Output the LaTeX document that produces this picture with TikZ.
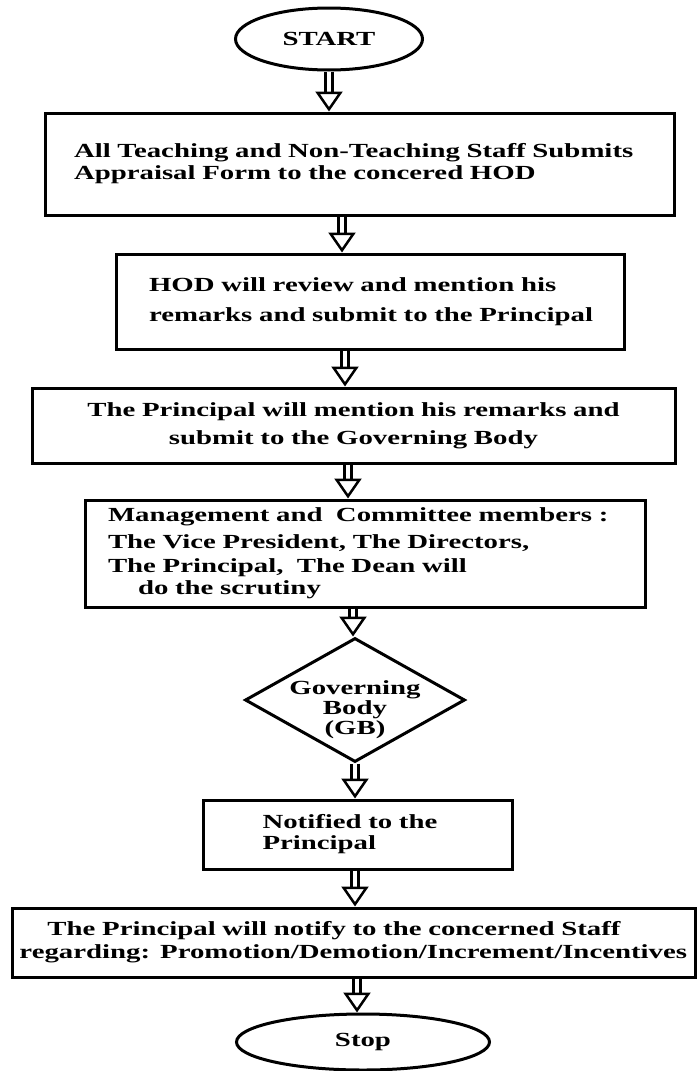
\documentclass[tikz,border=0pt]{standalone}
\usepackage{fontspec}
\newfontfamily\flowfont{Liberation Serif}[FakeStretch=1.44]
\newcommand{\flowtext}{\flowfont\bfseries\fontsize{20}{24}\selectfont}
\usetikzlibrary{arrows.meta,positioning,shapes.geometric}

\begin{document}
\begin{tikzpicture}[x=1pt, y=1pt, node distance=100pt]
	\tikzstyle{terminal} = [ellipse, draw=black, line width=3pt, inner sep=0pt, 
	font=\flowtext]
	\tikzstyle{process} = [rectangle, draw=black, line width=3pt, inner sep=0pt, 
	align=left, font=\flowtext]
	\tikzstyle{decision} = [diamond, draw=black, line width=3pt, inner sep=-10pt, 
	aspect=1.77, align=center, font=\flowtext]
	\tikzstyle{arrow} = [double, double distance=4.5pt, line width=2.5pt, 
	-{Triangle[length=20pt, width=27pt, fill=white, line width=2.5pt]}]
	\useasboundingbox (0,0) rectangle (697,-1071);
	\node (start) [terminal, minimum width=187pt, minimum height=62pt] at (329,-39) {START};
	\node (submitForm) [process, below of=start, node distance=125pt, xshift=30.5pt, 
	minimum width=629pt, minimum height=102pt, text width=571pt] {All Teaching and Non-Teaching Staff Submits\\[-2pt]Appraisal Form to the concered HOD};
	\node (hodReview) [process, below of=submitForm, node distance=137.5pt, xshift=10.5pt, 
	minimum width=508pt, minimum height=95pt, text width=470pt] {\hspace*{14pt}HOD will review and mention his\\[6pt]\hspace*{14pt}remarks and submit to the Principal\\[-4pt]};
	\node (principalRemarks) [process, below of=hodReview, node distance=124pt, xshift=-16.5pt, 
	minimum width=643pt, minimum height=75pt, text width=560pt, align=center] {The Principal will mention his remarks and\\[4pt]submit to the Governing Body};
	\node (scrutiny) [process, below of=principalRemarks, node distance=128pt, xshift=11.5pt, 
	minimum width=560pt, minimum height=107pt, text width=514pt] {Management and \ Committee members :\\[3pt]The Vice President, The Directors,\\The Principal, \ The Dean will\\[-2pt]\hspace*{30pt}do the scrutiny};
	\node (governingBody) [decision, below of=scrutiny, node distance=146.5pt, xshift=-10pt, 
	minimum width=220pt, minimum height=124pt] {\rule{0pt}{34pt}Governing\\[-4pt]Body\\[-4pt](GB)};
	\node (notified) [process, below of=governingBody, node distance=134.5pt, xshift=2.5pt, 
	minimum width=309pt, minimum height=69pt, text width=190pt] {Notified to the\\[-3pt]Principal};
	\node (notifyStaff) [process, below of=notified, node distance=108pt, xshift=-4pt, 
	minimum width=683pt, minimum height=69pt, text width=668pt] {\hspace*{28pt}The Principal will notify to the concerned Staff\\[-1pt]regarding: Promotion/Demotion/Increment/Incentives};
	\node (stop) [terminal, below of=notifyStaff, node distance=99.5pt, xshift=9.5pt, 
	minimum width=253pt, minimum height=56pt] {Stop};
	\draw [arrow] (start.south) -- (start.south |- submitForm.north);
	\draw [arrow] ([xshift=-17.5pt]submitForm.south) -- ([xshift=-17.5pt]submitForm.south |- hodReview.north);
	\draw [arrow] ([xshift=-25pt]hodReview.south) -- ([xshift=-25pt]hodReview.south |- principalRemarks.north);
	\draw [arrow] ([xshift=-5.5pt]principalRemarks.south) -- ([xshift=-5.5pt]principalRemarks.south |- scrutiny.north);
	\draw [arrow] ([xshift=-12pt]scrutiny.south) -- ([xshift=-12pt]scrutiny.south |- governingBody.north);
	\draw [arrow] (governingBody.south) -- (governingBody.south |- notified.north);
	\draw [arrow] ([xshift=-2.5pt]notified.south) -- ([xshift=-2.5pt]notified.south |- notifyStaff.north);
	\draw [arrow] ([xshift=3.5pt]notifyStaff.south) -- ([xshift=3.5pt]notifyStaff.south |- stop.north);
\end{tikzpicture}
\end{document}
